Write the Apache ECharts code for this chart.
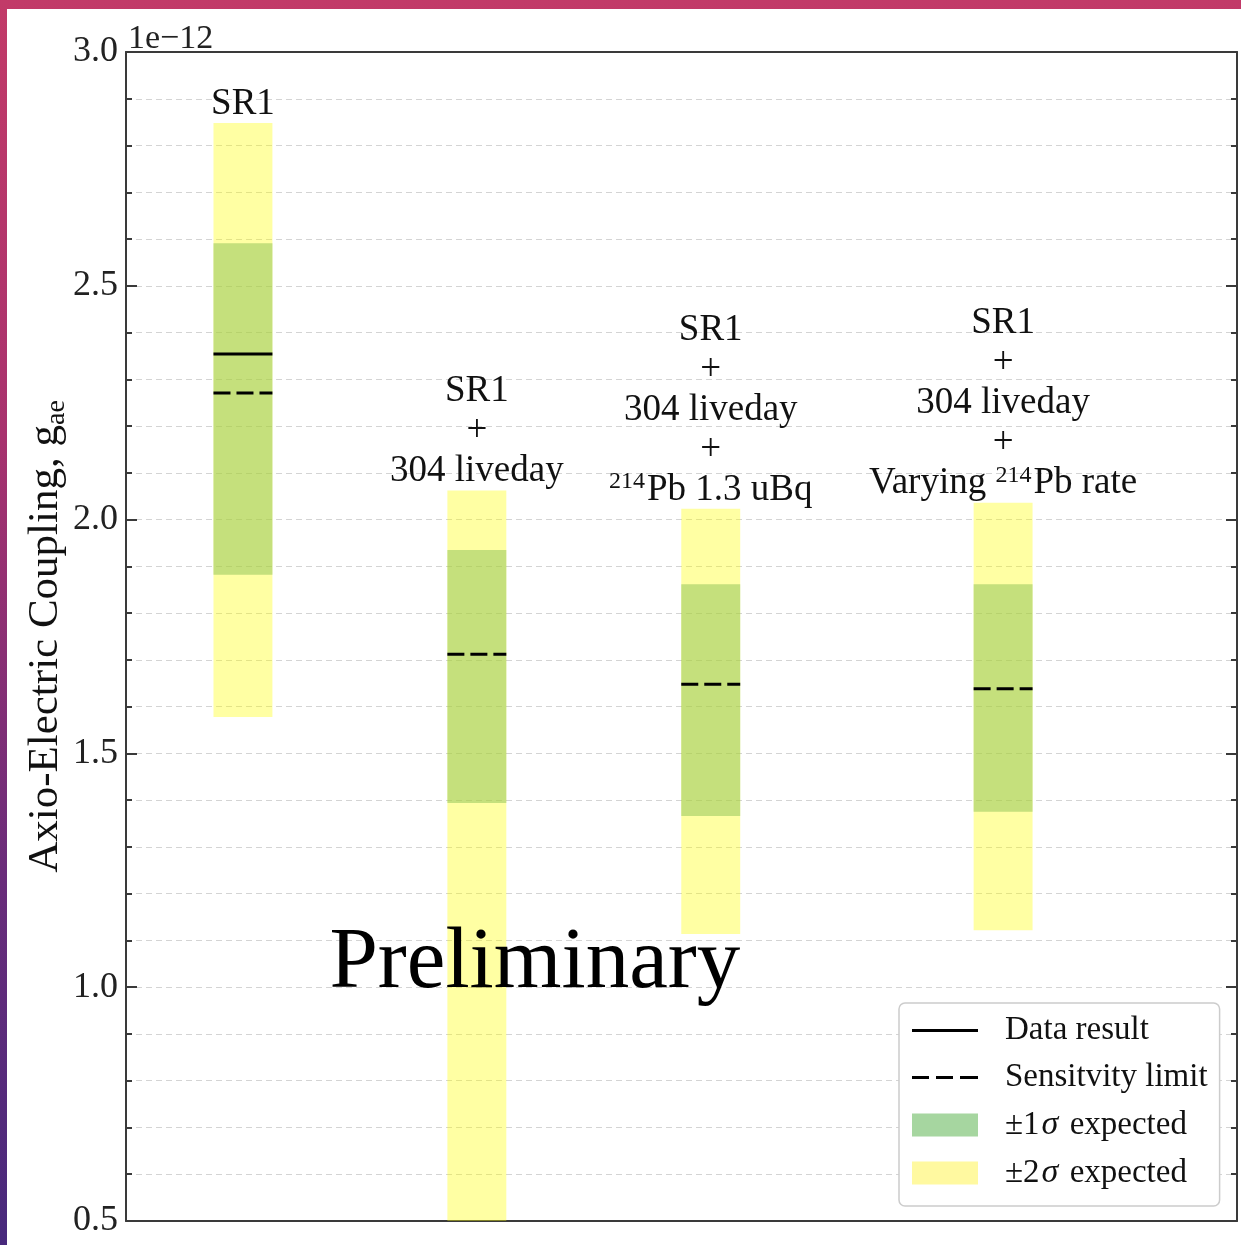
<!DOCTYPE html>
<html>
<head>
<meta charset="utf-8">
<script src="https://cdn.jsdelivr.net/npm/echarts@6/dist/echarts.min.js"></script>
<style>
  html, body { margin: 0; padding: 0; width: 1241px; height: 1245px; overflow: hidden;
    background: linear-gradient(to bottom, #c23a68 0%, #a8326e 35%, #6a2c7a 70%, #47297c 100%); }
  #chart { position: absolute; left: 7px; top: 9px; width: 1234px; height: 1236px; background: #ffffff; }
</style>
</head>
<body>
<div id="chart"></div>
<script>
// ---- data ----
const categories = ['SR1', 'SR1 + 304 liveday', 'SR1 + 304 liveday + 214Pb 1.3 uBq', 'SR1 + 304 liveday + Varying 214Pb rate'];
const xPositions = [1, 2, 3, 4.25];
const sigma2Low  = [1.578, 0.45, 1.114, 1.122];
const sigma2High = [2.848, 2.062, 2.023, 2.036];
const sigma1Low  = [1.882, 1.394, 1.366, 1.375];
const sigma1High = [2.591, 1.935, 1.862, 1.862];
const sensitivity = [2.271, 1.712, 1.648, 1.638];
const dataResult  = [2.354, null, null, null];
const barLabels = [
  'SR1',
  'SR1\n+\n304 liveday',
  'SR1\n+\n304 liveday\n+\n{sup|214}Pb 1.3 uBq',
  'SR1\n+\n304 liveday\n+\nVarying {sup|214}Pb rate'
];
const watermark = { x: 2.248, y: 1.05, text: 'Preliminary' };
const yMin = 0.5, yMax = 3.0, yInterval = 0.5;
const xMin = 0.5, xMax = 5.25;

// ---- styles ----
const FONT = '"Liberation Serif", "DejaVu Serif", serif';
const BAR_W = 0.252;
const YELLOW_FILL = 'rgba(255,255,0,0.36)';
const GREEN_FILL = 'rgba(139,193,86,0.5)';
const GRID_COLOR = '#d4d4d4';
const FRAME = '#3a3a3a';

const chart = echarts.init(document.getElementById('chart'), null, { renderer: 'canvas' });

function rectRender(fill) {
  return function (params, api) {
    const x = api.value(0), lo = api.value(1), hi = api.value(2);
    const pTop = api.coord([x, hi]);
    const pBot = api.coord([x, lo]);
    const w = api.size([BAR_W, 0])[0];
    return { type: 'rect', shape: { x: pTop[0] - w / 2, y: pTop[1], width: w, height: pBot[1] - pTop[1] },
      style: { fill: fill } };
  };
}
function lineRender(dash) {
  return function (params, api) {
    const x = api.value(0), v = api.value(1);
    const p = api.coord([x, v]);
    const w = api.size([BAR_W, 0])[0];
    return { type: 'line', shape: { x1: p[0] - w / 2, y1: p[1], x2: p[0] + w / 2, y2: p[1] },
      style: { stroke: '#000', lineWidth: 3, lineDash: dash, lineCap: 'butt' } };
  };
}

const sigma2Data = xPositions.map((x, i) => [x, sigma2Low[i], sigma2High[i]]);
const sigma1Data = xPositions.map((x, i) => [x, sigma1Low[i], sigma1High[i]]);
const sensData = xPositions.map((x, i) => [x, sensitivity[i]]);
const resultData = xPositions.map((x, i) => [x, dataResult[i]]).filter(d => d[1] !== null);
const labelData = xPositions.map((x, i) => [x, sigma2High[i], i]);

const option = {
  animation: false,
  backgroundColor: '#ffffff',
  title: {
    text: '1e\u221212', left: 116, top: 8,
    textStyle: { fontFamily: FONT, fontSize: 34, fontWeight: 'normal', color: '#222' }
  },
  grid: { left: 119, top: 43, right: 4, bottom: 24, containLabel: false, outerBoundsMode: 'none' },
  xAxis: [
    { type: 'value', min: xMin, max: xMax, position: 'bottom',
      axisLine: { show: true, lineStyle: { color: FRAME, width: 2 } },
      axisTick: { show: false }, axisLabel: { show: false }, splitLine: { show: false } },
    { type: 'value', min: xMin, max: xMax, position: 'top',
      axisLine: { show: true, lineStyle: { color: FRAME, width: 2 } },
      axisTick: { show: false }, axisLabel: { show: false }, splitLine: { show: false } }
  ],
  yAxis: [
    { type: 'value', min: yMin, max: yMax, interval: yInterval, position: 'left',
      name: 'Axio-Electric Coupling, g{s|ae}', nameLocation: 'middle', nameGap: 55, nameRotate: 90,
      nameMoveOverlap: false,
      nameTextStyle: { fontFamily: FONT, fontSize: 43, color: '#111', lineHeight: 50,
        rich: { s: { fontFamily: FONT, fontSize: 28, color: '#111', verticalAlign: 'bottom', lineHeight: 50 } } },
      axisLine: { show: true, lineStyle: { color: FRAME, width: 2 } },
      axisTick: { show: true, inside: true, length: 11, lineStyle: { color: FRAME, width: 2 } },
      minorTick: { show: true, splitNumber: 5, length: 6, lineStyle: { color: FRAME, width: 2 } },
      axisLabel: { fontFamily: FONT, fontSize: 36, color: '#222', margin: 8, formatter: v => v.toFixed(1) },
      splitLine: { show: true, lineStyle: { color: GRID_COLOR, width: 1, type: [6, 4] } },
      minorSplitLine: { show: true, lineStyle: { color: GRID_COLOR, width: 1, type: [6, 4] } } },
    { type: 'value', min: yMin, max: yMax, interval: yInterval, position: 'right',
      axisLine: { show: true, lineStyle: { color: FRAME, width: 2 } },
      axisTick: { show: true, inside: true, length: 11, lineStyle: { color: FRAME, width: 2 } },
      minorTick: { show: true, splitNumber: 5, length: 6, lineStyle: { color: FRAME, width: 2 } },
      axisLabel: { show: false }, splitLine: { show: false } }
  ],
  legend: {
    orient: 'vertical', left: 892, top: 994,
    padding: [11, 12, 16, 13],
    backgroundColor: '#ffffff', borderColor: '#cccccc', borderWidth: 1.5, borderRadius: 6,
    itemWidth: 66, itemHeight: 24, itemGap: 14,
    textStyle: { fontFamily: FONT, fontSize: 33, lineHeight: 33, color: '#111', padding: [0, 0, 0, 22],
      rich: { i: { fontFamily: FONT, fontSize: 34, lineHeight: 33, fontStyle: 'italic', color: '#111', padding: [0, 3, 0, 2] } } },
    formatter: name => name.replace('\u03c3', '{i|\u03c3}'),
    data: [
      { name: 'Data result', icon: 'path://M0,0h66v3h-66z', itemStyle: { color: '#000' } },
      { name: 'Sensitvity limit', icon: 'path://M0,0h17v3h-17zM24,0h17v3h-17zM48,0h18v3h-18z', itemStyle: { color: '#000' } },
      { name: '\u00b11\u03c3 expected', icon: 'path://M0,0h66v23h-66z', itemStyle: { color: '#a6d6a0' } },
      { name: '\u00b12\u03c3 expected', icon: 'path://M0,0h66v23h-66z', itemStyle: { color: '#fff9a0' } }
    ]
  },
  series: [
    { name: '\u00b12\u03c3 expected', type: 'custom', clip: true, data: sigma2Data,
      itemStyle: { color: '#fff9a0' }, renderItem: rectRender(YELLOW_FILL), z: 2 },
    { name: '\u00b11\u03c3 expected', type: 'custom', clip: true, data: sigma1Data,
      itemStyle: { color: '#a6d6a0' }, renderItem: rectRender(GREEN_FILL), z: 3 },
    { name: 'Sensitvity limit', type: 'custom', clip: true, data: sensData,
      itemStyle: { color: '#000' }, renderItem: lineRender([17, 6]), z: 4 },
    { name: 'Data result', type: 'custom', clip: true, data: resultData,
      itemStyle: { color: '#000' }, renderItem: lineRender(null), z: 5 },
    { name: 'labels', type: 'custom', data: labelData, z: 6, silent: true,
      renderItem: function (params, api) {
        const x = api.value(0), top = api.value(1), idx = api.value(2);
        const p = api.coord([x, top]);
        return { type: 'text', x: p[0], y: p[1] + 1,
          style: { text: barLabels[idx], align: 'center', verticalAlign: 'bottom',
            fontFamily: FONT, fontSize: 37, lineHeight: 40, fill: '#111',
            rich: { sup: { fontFamily: FONT, fontSize: 24, verticalAlign: 'top', lineHeight: 40, fill: '#111', padding: [0, 2, 0, 0] } } } };
      } },
    { name: 'watermark', type: 'custom', data: [[watermark.x, watermark.y]], z: 7, silent: true,
      renderItem: function (params, api) {
        const p = api.coord([api.value(0), api.value(1)]);
        return { type: 'text', x: p[0], y: p[1],
          style: { text: watermark.text, align: 'center', verticalAlign: 'middle',
            fontFamily: FONT, fontSize: 87, fill: '#000' } };
      } }
  ]
};
chart.setOption(option);
</script>
</body>
</html>
